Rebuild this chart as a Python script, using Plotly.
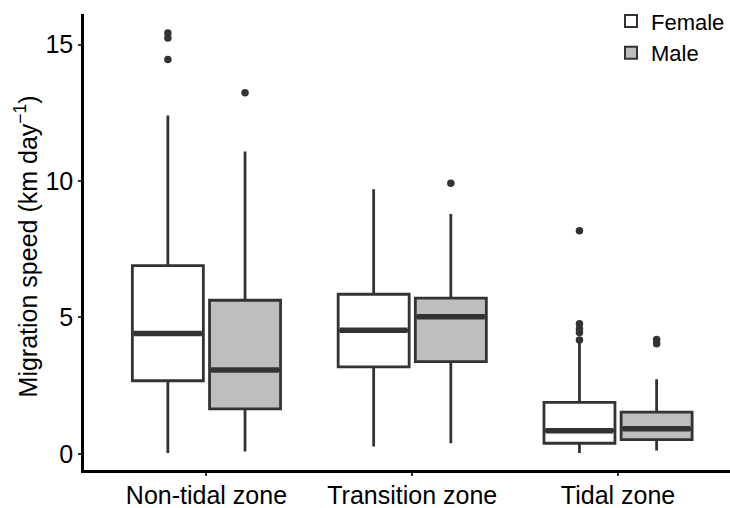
import plotly.graph_objects as go

zones = ["Non-tidal zone", "Transition zone", "Tidal zone"]
sexes = ["Female", "Male"]
fills = {"Female": "#FFFFFF", "Male": "#BEBEBE"}

# precomputed box statistics per sex, per zone
lower = {"Female": [0.03, 0.27, 0.03], "Male": [0.09, 0.39, 0.12]}
q1 = {"Female": [2.68, 3.19, 0.39], "Male": [1.65, 3.38, 0.52]}
median = {"Female": [4.41, 4.53, 0.85], "Male": [3.07, 5.03, 0.92]}
q3 = {"Female": [6.90, 5.85, 1.89], "Male": [5.63, 5.71, 1.53]}
upper = {"Female": [12.40, 9.70, 4.10], "Male": [11.08, 8.79, 2.74]}
outliers = {
    "Female": [[15.42, 15.24, 14.45], [], [8.18, 4.77, 4.59, 4.45, 4.17]],
    "Male": [[13.23], [9.92], [4.19, 4.04]],
}

dodge = {"Female": -0.1875, "Male": 0.1875}
box_w = 0.345
line_col = "#333333"

fig = go.Figure()
for s in sexes:
    xs = [i + dodge[s] for i in range(len(zones))]
    fig.add_trace(go.Box(
        x=xs, q1=q1[s], median=median[s], q3=q3[s],
        lowerfence=lower[s], upperfence=upper[s],
        width=box_w, whiskerwidth=0, boxpoints=False,
        fillcolor=fills[s], line=dict(color=line_col, width=2.8),
        name=s, hoverinfo="skip",
    ))
for s in sexes:
    mx, my = [], []
    for i in range(len(zones)):
        c = i + dodge[s]
        mx += [c - box_w / 2 + 0.008, c + box_w / 2 - 0.008, None]
        my += [median[s][i], median[s][i], None]
    fig.add_trace(go.Scatter(x=mx, y=my, mode="lines",
                             line=dict(color=line_col, width=5.5),
                             showlegend=False, hoverinfo="skip"))
    ox, oy = [], []
    for i in range(len(zones)):
        for v in outliers[s][i]:
            ox.append(i + dodge[s])
            oy.append(v)
    fig.add_trace(go.Scatter(x=ox, y=oy, mode="markers",
                             marker=dict(color=line_col, size=7.5),
                             showlegend=False, hoverinfo="skip"))

font = "Liberation Sans, Arial, sans-serif"
fig.update_layout(
    width=730, height=508,
    margin=dict(l=84, r=0, t=10, b=38),
    plot_bgcolor="white", paper_bgcolor="white",
    font=dict(family=font, size=25, color="#000000"),
    showlegend=True,
    legend=dict(x=1, y=1.03, xanchor="right", yanchor="top",
                bgcolor="rgba(0,0,0,0)", font=dict(size=22, color="#000000"),
                itemsizing="constant", tracegroupgap=0),
    xaxis=dict(range=[-0.595, 2.544], tickmode="array",
               tickvals=list(range(len(zones))), ticktext=zones,
               showline=True, linecolor="black", linewidth=2.5,
               ticks="outside", ticklen=3, tickcolor="#333333", tickwidth=2,
               ticklabelstandoff=-2,
               showgrid=False, zeroline=False, automargin=False,
               tickfont=dict(size=25, color="#000000")),
    yaxis=dict(range=[-0.59, 16.12], tickvals=[0, 5, 10, 15],
               showline=True, linecolor="black", linewidth=2.5,
               ticks="outside", ticklen=3, tickcolor="#333333", tickwidth=2,
               showgrid=False, zeroline=False, automargin=False,
               tickfont=dict(size=25, color="#000000")),
    annotations=[dict(text="Migration speed (km day<sup>−1</sup>)",
                      xref="paper", yref="paper", x=-0.09, y=0.49,
                      xanchor="center", yanchor="middle", textangle=-90,
                      showarrow=False, font=dict(size=25, color="#000000"))],
)

fig.write_html("out.html")
